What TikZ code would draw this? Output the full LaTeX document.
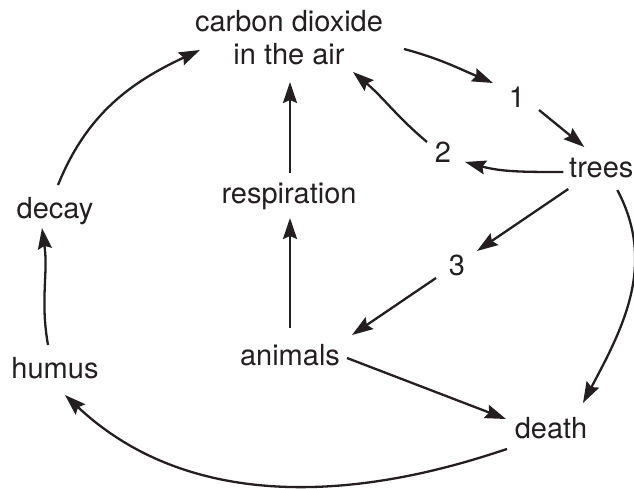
\documentclass[tikz,border=0pt]{standalone}
\usepackage{fontspec}
\setmainfont{TeX Gyre Heros}
\usetikzlibrary{arrows.meta,calc}
\definecolor{ink}{HTML}{231F20}
\begin{document}
\begin{tikzpicture}[x=1pt,y=1pt,
  lbl/.style={inner sep=0pt, font=\fontsize{29}{33}\selectfont, text=ink},
  arr/.style={line width=2.3pt, draw=ink, -{Stealth[length=21pt,width=14pt,inset=3pt]}},
]
\useasboundingbox (0,0) rectangle (634,489);
\node[lbl, align=center] (co2) at (289,451) {carbon dioxide\\in the air};
\node[lbl] (n1) at (517,392) {1};
\node[lbl] (n2) at (443,337) {2};
\node[lbl] (trees) at (601.3,321) {trees};
\node[lbl] (n3) at (457,224) {3};
\node[lbl] (resp) at (289,293) {respiration};
\node[lbl] (animals) at (290,134) {animals};
\node[lbl] (decay) at (55,278) {decay};
\node[lbl] (humus) at (55,121) {humus};
\node[lbl] (death) at (551,61) {death};

\draw[arr] ($(decay)+(3,26)$) to[out=68,in=205] ($(co2)+(-89,-12)$);
\draw[arr] ($(humus)+(-7,23)$) to[out=100,in=-82] ($(decay)+(-13,-17)$);
\draw[arr] ($(death)+(-44,-21)$) .. controls ($(death)+(-102,-40)$) and ($(humus)+(169,-176)$) .. ($(humus)+(10,-27)$);
\draw[arr] ($(animals)+(57,-3)$) -- ($(death)+(-45,9)$);
\draw[arr] ($(trees)+(16,-22)$) to[out=-62,in=62] ($(death)+(32,25)$);
\draw[arr] ($(trees)+(-33,-21)$) -- ($(n3)+(20,14)$);
\draw[arr] ($(n3)+(-21,-13)$) -- ($(animals)+(62,20)$);
\draw[arr] ($(animals)+(0,27)$) -- ($(resp)+(1,-22)$);
\draw[arr] ($(resp)+(1,23)$) -- ($(co2)+(1,-44)$);
\draw[arr] ($(co2)+(115,-11)$) to[out=-15,in=157] ($(n1)+(-24,14)$);
\draw[arr] ($(n1)+(22,-13)$) -- ($(trees)+(-17,21)$);
\draw[arr] ($(trees)+(-38,-4)$) to[out=180,in=-15] ($(n2)+(22,-10)$);
\draw[arr] ($(n2)+(-16,10)$) to[out=140,in=-40] ($(co2)+(64,-34)$);
\end{tikzpicture}
\end{document}
